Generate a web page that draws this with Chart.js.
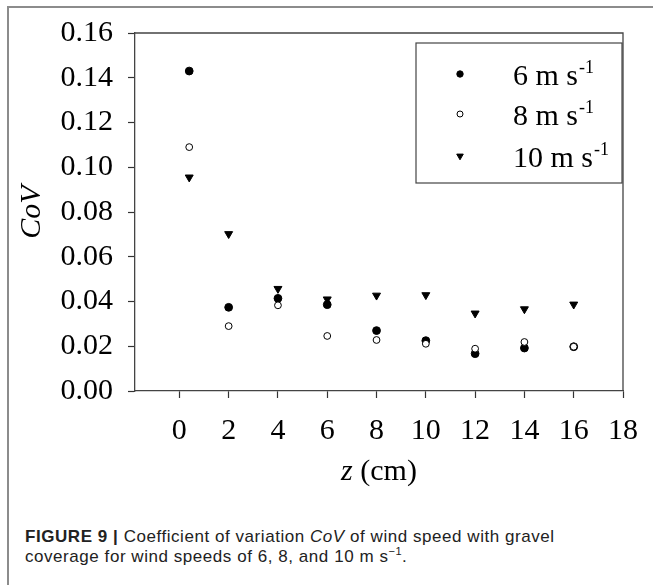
<!DOCTYPE html>
<html>
<head>
<meta charset="utf-8">
<script src="https://cdn.jsdelivr.net/npm/chart.js@4/dist/chart.umd.min.js"></script>
<style>
  body { margin: 0; background: #fff; width: 653px; height: 585px; overflow: hidden; position: relative; }
  #frame { position: absolute; left: 7px; top: 6px; width: 700px; height: 600px;
           border-left: 2px solid #8c8c8c; border-top: 2px solid #8c8c8c; }
  #chart { position: absolute; left: 0; top: 0; }
  #caption { position: absolute; left: 25px; top: 527px; font-family: "Liberation Sans", Arial, sans-serif;
             font-size: 17px; line-height: 20px; letter-spacing: 0.55px; color: #222; white-space: nowrap; }
  #caption b { font-weight: bold; }
</style>
</head>
<body>
<div id="frame"></div>
<canvas id="chart" width="653" height="500"></canvas>
<div id="caption"><b>FIGURE 9 |</b> Coefficient of variation <i>CoV</i> of wind speed with gravel<br>coverage for wind speeds of 6, 8, and 10 m s<sup style="font-size:11px;line-height:0">&minus;1</sup>.</div>

<script>
// data
var zValues = [0.4, 2, 4, 6, 8, 10, 12, 14, 16];
var cov6 = [0.143, 0.0374, 0.0414, 0.0386, 0.027, 0.0225, 0.0167, 0.0192, 0.0198];
var cov8 = [0.109, 0.029, 0.0383, 0.0246, 0.0228, 0.0211, 0.0189, 0.0219, 0.0198];
var cov10 = [0.0955, 0.0702, 0.0457, 0.041, 0.0427, 0.0429, 0.0347, 0.0366, 0.0387];
var seriesNames = ["6 m s", "8 m s", "10 m s"];
var xTicks = [0, 2, 4, 6, 8, 10, 12, 14, 16, 18];
var yTicks = [0, 0.02, 0.04, 0.06, 0.08, 0.10, 0.12, 0.14, 0.16];

var serif = "'Liberation Serif', 'Times New Roman', serif";

function toPoints(vals) {
    return vals.map(function(v, i) { return {x: zValues[i], y: v}; });
}

// frame on top/right, legend box and the x title (italic z + upright units)
var extras = {
    id: 'extras',
    afterDraw: function(chart) {
        var ctx = chart.ctx;
        var a = chart.chartArea;
        ctx.save();
        ctx.strokeStyle = '#444';
        ctx.lineWidth = 1.3;
        ctx.beginPath();
        ctx.moveTo(a.left, a.top);
        ctx.lineTo(a.right, a.top);
        ctx.lineTo(a.right, a.bottom);
        ctx.stroke();

        // legend
        var bx = a.left + 281, by = a.top + 10, bw = 206, bh = 140;
        ctx.lineWidth = 1.2;
        ctx.strokeStyle = '#444';
        ctx.strokeRect(bx, by, bw, bh);
        var rowY = [by + 31, by + 71, by + 113];
        chart.data.datasets.forEach(function(ds, i) {
            ctx.fillStyle = ds.backgroundColor;
            ctx.strokeStyle = ds.borderColor;
            ctx.lineWidth = ds.borderWidth;
            Chart.helpers.drawPoint(ctx, {
                pointStyle: ds.pointStyle,
                radius: ds.legendRadius,
                rotation: ds.rotation || 0,
                borderWidth: ds.borderWidth
            }, bx + 44, rowY[i]);
            ctx.fillStyle = '#000';
            ctx.textBaseline = 'alphabetic';
            ctx.textAlign = 'left';
            ctx.font = '30px ' + serif;
            var tx = bx + 97;
            var ty = rowY[i] + 11;
            ctx.fillText(ds.label, tx, ty);
            var w = ctx.measureText(ds.label).width;
            ctx.font = '18px ' + serif;
            ctx.fillText('-1', tx + w + 1, ty - 12);
        });

        // x axis title
        var cx = (a.left + a.right) / 2;
        var ty2 = a.bottom + 81;
        ctx.textBaseline = 'middle';
        ctx.textAlign = 'left';
        ctx.font = 'italic 30px ' + serif;
        var w1 = ctx.measureText('z').width;
        ctx.font = '30px ' + serif;
        var w2 = ctx.measureText(' (cm)').width;
        var sx = cx - (w1 + w2) / 2;
        ctx.font = 'italic 30px ' + serif;
        ctx.fillText('z', sx, ty2);
        ctx.font = '30px ' + serif;
        ctx.fillText(' (cm)', sx + w1, ty2);
        ctx.restore();
    }
};

var ctx = document.getElementById('chart').getContext('2d');
var myChart = new Chart(ctx, {
    type: 'scatter',
    data: {
        datasets: [
            {label: seriesNames[0], data: toPoints(cov6), pointStyle: 'circle', pointRadius: 3.9,
             backgroundColor: '#000', borderColor: '#000', borderWidth: 1, legendRadius: 3.2, order: 1},
            {label: seriesNames[1], data: toPoints(cov8), pointStyle: 'circle', pointRadius: 3.4,
             backgroundColor: '#fff', borderColor: '#000', borderWidth: 1, legendRadius: 3, order: 0},
            {label: seriesNames[2], data: toPoints(cov10), pointStyle: 'triangle', pointRadius: 4.6,
             pointRotation: 180, rotation: 180, backgroundColor: '#000', borderColor: '#000', borderWidth: 1,
             legendRadius: 3.8, order: 2}
        ]
    },
    options: {
        responsive: false,
        animation: false,
        layout: {padding: {left: 0, top: 33, right: 21, bottom: 20}},
        plugins: {legend: {display: false}, tooltip: {enabled: false}},
        scales: {
            x: {
                type: 'linear',
                min: -1.8,
                max: 18,
                afterBuildTicks: function(scale) {
                    scale.ticks = xTicks.map(function(v) { return {value: v}; });
                },
                afterFit: function(scale) { scale.height = 89; },
                grid: {display: true, drawOnChartArea: false, drawTicks: true, tickLength: 7, color: '#333', tickWidth: 1.2},
                border: {display: true, color: '#444', width: 1.3},
                ticks: {color: '#000', padding: 15, font: {family: serif, size: 30}, maxRotation: 0,
                        callback: function(v) { return String(v); }}
            },
            y: {
                min: 0,
                max: 0.16,
                afterBuildTicks: function(scale) {
                    scale.ticks = yTicks.map(function(v) { return {value: v}; });
                },
                afterFit: function(scale) { scale.width = 135; },
                grid: {display: true, drawOnChartArea: false, drawTicks: true, tickLength: 7, color: '#333', tickWidth: 1.2},
                border: {display: true, color: '#444', width: 1.3},
                ticks: {color: '#000', padding: 15, font: {family: serif, size: 30},
                        callback: function(v) { return v.toFixed(2); }},
                title: {display: true, text: 'CoV', color: '#000', padding: {top: 14, bottom: 0},
                        font: {family: serif, size: 30, style: 'italic'}}
            }
        }
    },
    plugins: [extras]
});
</script>
</body>
</html>
